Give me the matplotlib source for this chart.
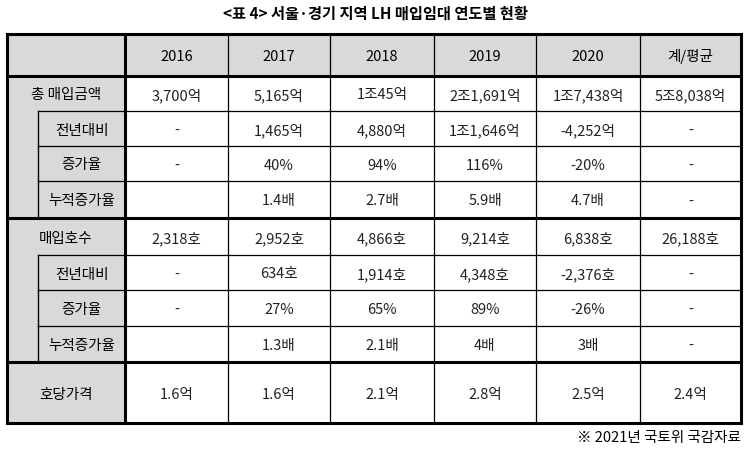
import matplotlib
matplotlib.use("Agg")
import matplotlib.pyplot as plt
from matplotlib.patches import Rectangle

title = "<표 4> 서울·경기 지역 LH 매입임대 연도별 현황"
columns = ["2016", "2017", "2018", "2019", "2020", "계/평균"]
row_labels = ["총 매입금액", "전년대비", "증가율", "누적증가율",
              "매입호수", "전년대비", "증가율", "누적증가율", "호당가격"]
sub_rows = [False, True, True, True, False, True, True, True, False]
cells = [
    ["3,700억", "5,165억", "1조45억", "2조1,691억", "1조7,438억", "5조8,038억"],
    ["-", "1,465억", "4,880억", "1조1,646억", "-4,252억", "-"],
    ["-", "40%", "94%", "116%", "-20%", "-"],
    ["", "1.4배", "2.7배", "5.9배", "4.7배", "-"],
    ["2,318호", "2,952호", "4,866호", "9,214호", "6,838호", "26,188호"],
    ["-", "634호", "1,914호", "4,348호", "-2,376호", "-"],
    ["-", "27%", "65%", "89%", "-26%", "-"],
    ["", "1.3배", "2.1배", "4배", "3배", "-"],
    ["1.6억", "1.6억", "2.1억", "2.8억", "2.5억", "2.4억"],
]
source = "※ 2021년 국토위 국감자료"

W, H = 750, 449
fig = plt.figure(figsize=(7.5, 4.49), dpi=100)
ax = fig.add_axes([0, 0, 1, 1])
ax.set_xlim(0, W); ax.set_ylim(H, 0); ax.axis("off")
FONT = "Noto Sans CJK KR"
gray = "#d9d9d9"
dy = 2

xs = [7, 125, 228, 330, 434, 536, 640, 741]
ys = [34, 76, 111, 146, 181, 218, 255, 290, 326, 362, 423]
inner = 38

ax.text(W / 2, 14, title, ha="center", va="center", fontsize=11, fontweight="bold", family=FONT)

ax.add_patch(Rectangle((xs[0], ys[0]), xs[-1] - xs[0], ys[1] - ys[0], color=gray, lw=0))
ax.add_patch(Rectangle((xs[0], ys[1]), xs[1] - xs[0], ys[-1] - ys[1], color=gray, lw=0))

for j, c in enumerate(columns):
    ax.text((xs[j + 1] + xs[j + 2]) / 2, (ys[0] + ys[1]) / 2 + dy, c, ha="center", va="center",
            fontsize=10.5, family=FONT, fontweight="medium")

for i, lab in enumerate(row_labels):
    yc = (ys[i + 1] + ys[i + 2]) / 2 + dy
    lx = (inner + xs[1]) / 2 if sub_rows[i] else (xs[0] + xs[1]) / 2
    ax.text(lx, yc, lab, ha="center", va="center", fontsize=10.5, family=FONT, fontweight="medium")
    for j, v in enumerate(cells[i]):
        ax.text((xs[j + 1] + xs[j + 2]) / 2, yc, v, ha="center", va="center",
                fontsize=10.5, family=FONT, color="#222222")
    if sub_rows[i]:
        ax.plot([inner, inner], [ys[i + 1], ys[i + 2]], color="black", lw=1)

thick = {0, 1, 5, 9, 10}
for k, y in enumerate(ys):
    w = 2.2 if k in thick else 0.9
    x0 = xs[0]
    if k not in thick and sub_rows[k - 1]:
        x0 = inner
    if k in (2, 6):
        x0 = inner
    ax.plot([x0, xs[-1]], [y, y], color="black", lw=w)
for k, x in enumerate(xs):
    w = 2.2 if k in (0, 1, 7) else 0.9
    ax.plot([x, x], [ys[0], ys[-1]], color="black", lw=w)

ax.text(741, 438, source, ha="right", va="center", fontsize=10.5, family=FONT)
fig.savefig("out.png", dpi=100)
